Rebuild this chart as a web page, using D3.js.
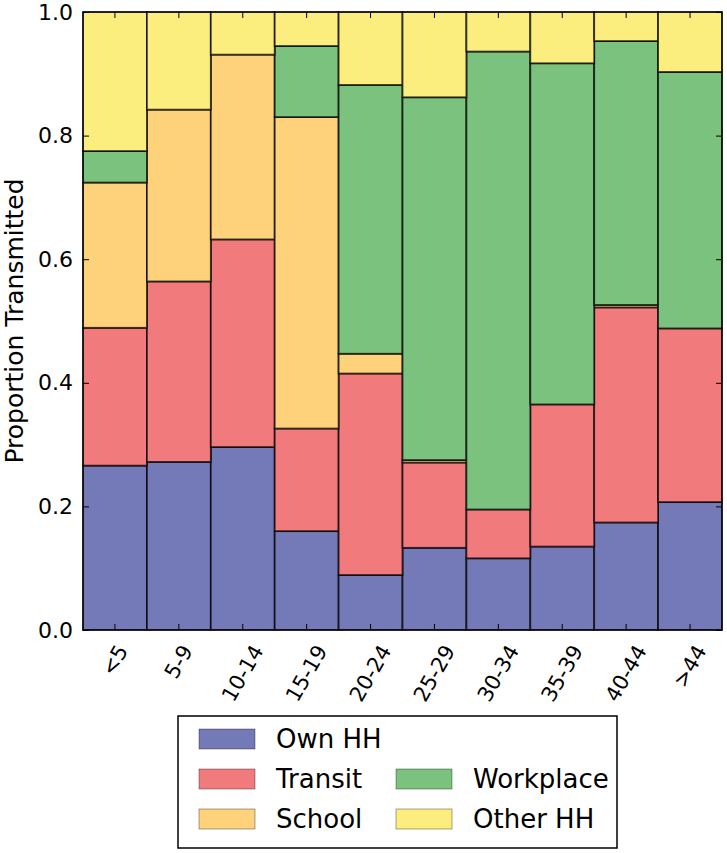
<!DOCTYPE html>
<html>
<head>
<meta charset="utf-8">
<script src="https://cdn.jsdelivr.net/npm/d3@7"></script>
<style>
  body { margin: 0; background: #fff; }
  text { font-family: "DejaVu Sans", sans-serif; fill: #000; }
</style>
</head>
<body>
<div id="chart"></div>
<script>
// age groups along the x axis
const ageGroups = ["<5", "5-9", "10-14", "15-19", "20-24", "25-29", "30-34", "35-39", "40-44", ">44"];

// proportion transmitted in each setting
const ownHH     = [0.266, 0.272, 0.296, 0.160, 0.089, 0.133, 0.116, 0.135, 0.174, 0.207];
const transit   = [0.223, 0.292, 0.336, 0.166, 0.326, 0.138, 0.079, 0.230, 0.348, 0.281];
const school    = [0.235, 0.278, 0.299, 0.504, 0.032, 0.004, 0.000, 0.000, 0.004, 0.000];
const workplace = [0.051, 0.000, 0.000, 0.115, 0.435, 0.587, 0.741, 0.552, 0.427, 0.415];
const otherHH   = [0.225, 0.158, 0.069, 0.055, 0.118, 0.138, 0.064, 0.083, 0.047, 0.097];

const seriesNames = ["Own HH", "Transit", "School", "Workplace", "Other HH"];
const seriesColors = ["#7479b8", "#f17a7d", "#fdd27b", "#7bc27e", "#fbed7e"];
const yTicks = [0.0, 0.2, 0.4, 0.6, 0.8, 1.0];

const W = 727, H = 853;
const margin = {top: 12, right: 5, bottom: 223, left: 83};
const width = W - margin.left - margin.right,
      height = H - margin.top - margin.bottom;

const rows = ageGroups.map((g, i) => ({
  group: g,
  "Own HH": ownHH[i],
  "Transit": transit[i],
  "School": school[i],
  "Workplace": workplace[i],
  "Other HH": otherHH[i]
}));
const stacked = d3.stack().keys(seriesNames)(rows);

const svg = d3.select("#chart").append("svg")
  .attr("width", W)
  .attr("height", H);

const g = svg.append("g")
  .attr("transform", "translate(" + margin.left + "," + margin.top + ")");

const x = d3.scaleBand().domain(ageGroups).range([0, width]).padding(0);
const y = d3.scaleLinear().domain([0, 1]).range([height, 0]);
const color = d3.scaleOrdinal().domain(seriesNames).range(seriesColors);

// stacked bars, black edge at 0.7 opacity like matplotlib alpha
g.append("g").selectAll("g")
  .data(stacked)
  .join("g")
  .attr("fill", d => color(d.key))
  .selectAll("rect")
  .data(d => d)
  .join("rect")
  .attr("x", d => x(d.data.group))
  .attr("y", d => y(d[1]))
  .attr("width", x.bandwidth())
  .attr("height", d => y(d[0]) - y(d[1]))
  .attr("stroke", "#000")
  .attr("stroke-opacity", 0.72)
  .attr("stroke-width", 1.8);

// axes with inward ticks on all four sides
const tickLen = 6;
const yAxisL = g.append("g").call(d3.axisLeft(y).tickValues(yTicks).tickFormat(d3.format(".1f")).tickSizeInner(-tickLen).tickSizeOuter(0).tickPadding(10));
const yAxisR = g.append("g").attr("transform", "translate(" + width + ",0)")
  .call(d3.axisRight(y).tickValues(yTicks).tickSizeInner(-tickLen).tickSizeOuter(0).tickFormat(""));
const xAxisB = g.append("g").attr("transform", "translate(0," + height + ")")
  .call(d3.axisBottom(x).tickSizeInner(-tickLen).tickSizeOuter(0).tickFormat(""));
const xAxisT = g.append("g")
  .call(d3.axisTop(x).tickSizeInner(-tickLen).tickSizeOuter(0).tickFormat(""));

[yAxisL, yAxisR, xAxisB, xAxisT].forEach(a => {
  a.select(".domain").remove();
  a.selectAll(".tick line").attr("stroke", "#000").attr("stroke-width", 1);
});
yAxisL.selectAll(".tick text")
  .style("font-family", "DejaVu Sans")
  .style("font-size", "22px")
  .attr("fill", "#000");

// frame
g.append("rect")
  .attr("width", width)
  .attr("height", height)
  .attr("fill", "none")
  .attr("stroke", "#000")
  .attr("stroke-width", 1.2);

// rotated x labels, box centred on the tick (matplotlib rotation=60)
const angle = 60 * Math.PI / 180;
const labelTop = height + 13;
ageGroups.forEach(a => {
  const lg = g.append("g");
  const t = lg.append("text")
    .attr("text-anchor", "middle")
    .attr("dominant-baseline", "central")
    .attr("transform", "rotate(-60)")
    .style("font-size", "21px")
    .text(a);
  const w = t.node().getComputedTextLength();
  const h = 16;
  const halfH = (w * Math.sin(angle) + h * Math.cos(angle)) / 2;
  lg.attr("transform", "translate(" + (x(a) + x.bandwidth() / 2) + "," + (labelTop + halfH) + ")");
});

// y axis label
svg.append("text")
  .attr("transform", "translate(23," + (margin.top + height / 2) + ") rotate(-90)")
  .attr("text-anchor", "middle")
  .style("font-size", "25px")
  .text("Proportion Transmitted");

// legend
const legend = svg.append("g");
legend.append("rect")
  .attr("x", 178).attr("y", 716)
  .attr("width", 439).attr("height", 132)
  .attr("fill", "#fff")
  .attr("stroke", "#000")
  .attr("stroke-width", 1.5);

const legendPos = [
  {col: 0, row: 0}, {col: 0, row: 1}, {col: 0, row: 2},
  {col: 1, row: 1}, {col: 1, row: 2}
];
const colX = [199, 396];
seriesNames.forEach((name, i) => {
  const p = legendPos[i];
  const cy = 739 + p.row * 40;
  legend.append("rect")
    .attr("x", colX[p.col]).attr("y", cy - 10)
    .attr("width", 56).attr("height", 20)
    .attr("fill", color(name))
    .attr("stroke", "#000")
    .attr("stroke-opacity", 0.35)
    .attr("stroke-width", 1);
  legend.append("text")
    .attr("x", colX[p.col] + 77)
    .attr("y", cy)
    .attr("dominant-baseline", "central")
    .style("font-size", "26px")
    .text(name);
});
</script>
</body>
</html>
